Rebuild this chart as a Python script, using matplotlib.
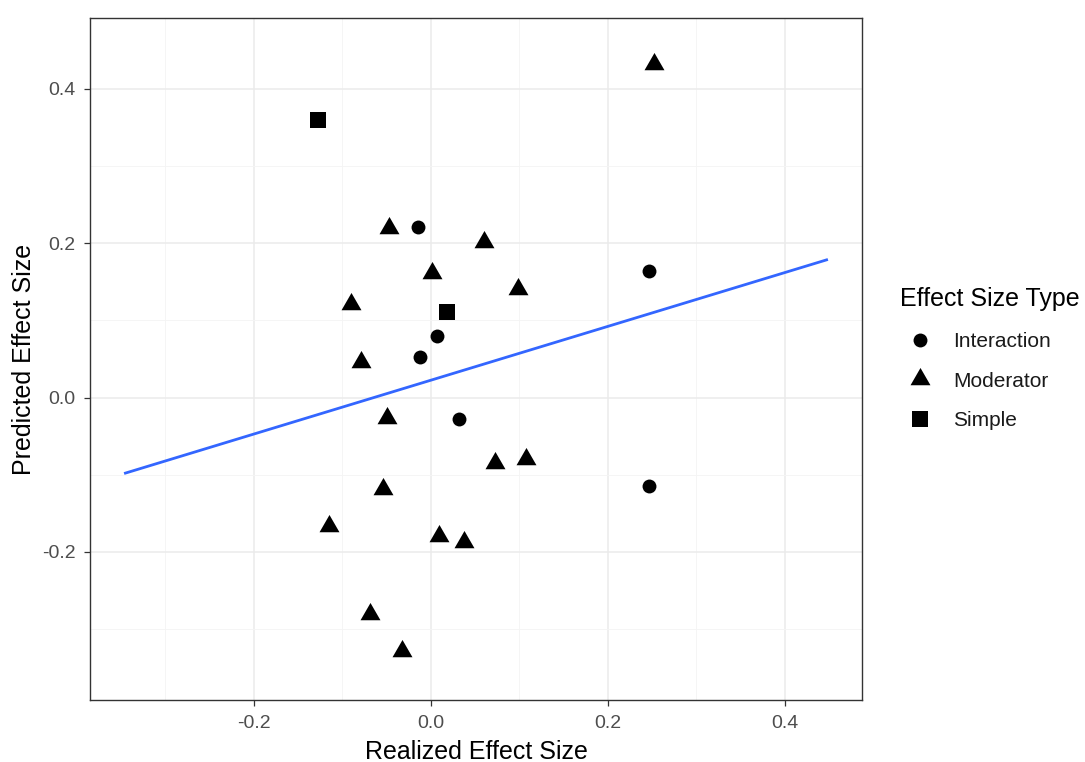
import matplotlib.pyplot as plt
import numpy as np
from matplotlib.lines import Line2D

plt.rcParams["font.family"] = ["Liberation Sans", "DejaVu Sans"]

interaction_x = [-0.015, 0.246, 0.007, -0.012, 0.032, 0.246]
interaction_y = [0.221, 0.164, 0.080, 0.052, -0.028, -0.115]

moderator_x = [0.252, -0.047, 0.060, 0.001, -0.090, 0.098, -0.079, -0.049,
               0.072, 0.108, -0.054, -0.115, 0.009, 0.038, -0.069, -0.033]
moderator_y = [0.432, 0.220, 0.202, 0.161, 0.121, 0.141, 0.046, -0.026,
               -0.085, -0.079, -0.118, -0.167, -0.180, -0.187, -0.280, -0.328]

simple_x = [-0.128, 0.018]
simple_y = [0.360, 0.111]

# linear fit shown in the chart
fit_x = [-0.345, 0.447]
fit_slope = 0.349
fit_intercept = 0.0225

TRI = [(-1, -0.577), (1, -0.577), (0, 1.155)]

fig = plt.figure(figsize=(10.85, 7.62), dpi=100)
ax = fig.add_axes([90 / 1085, 1 - 700 / 762, (862 - 90) / 1085, (700 - 18) / 762])

ax.set_xlim(-0.385, 0.487)
ax.set_ylim(-0.392, 0.492)
ax.set_xticks([-0.2, 0.0, 0.2, 0.4])
ax.set_xticklabels(["-0.2", "0.0", "0.2", "0.4"])
ax.set_yticks([-0.2, 0.0, 0.2, 0.4])
ax.set_yticklabels(["-0.2", "0.0", "0.2", "0.4"])
ax.set_xticks([-0.3, -0.1, 0.1, 0.3], minor=True)
ax.set_yticks([-0.3, -0.1, 0.1, 0.3], minor=True)
ax.grid(which="major", color="#EBEBEB", linewidth=1.1)
ax.grid(which="minor", color="#F4F4F4", linewidth=0.6)
ax.set_axisbelow(True)
ax.tick_params(which="minor", length=0)
ax.tick_params(which="major", length=4, width=0.9, color="#333333",
               labelsize=14, labelcolor="#4D4D4D")
ax.tick_params(axis="x", pad=6.5)
ax.tick_params(axis="y", pad=6.5)
for s in ax.spines.values():
    s.set_color("#333333")
    s.set_linewidth(1.0)

xs = np.array(fit_x)
ax.plot(xs, fit_intercept + fit_slope * xs, color="#3366FF", linewidth=2.0, zorder=2)

ax.scatter(interaction_x, interaction_y, marker="o", s=100, color="black", linewidths=0, zorder=3)
ax.scatter(moderator_x, moderator_y, marker=TRI, s=16.6 ** 2, color="black", linewidths=0, zorder=3)
ax.scatter(simple_x, simple_y, marker="s", s=12.2 ** 2, color="black", linewidths=0, zorder=3)

ax.set_xlabel("Realized Effect Size", fontsize=18, color="black", labelpad=6)
ax.set_ylabel("Predicted Effect Size", fontsize=18, color="black", labelpad=4)

handles = [
    Line2D([], [], linestyle="none", marker="o", markersize=10, color="black", markeredgewidth=0),
    Line2D([], [], linestyle="none", marker=TRI, markersize=16.6, color="black", markeredgewidth=0),
    Line2D([], [], linestyle="none", marker="s", markersize=12.2, color="black", markeredgewidth=0),
]
leg = fig.legend(handles, ["Interaction", "Moderator", "Simple"], title="Effect Size Type",
                 loc="upper left", bbox_to_anchor=(900 / 1085, 1 - 287 / 762),
                 frameon=False, fontsize=15, title_fontsize=18, borderpad=0,
                 borderaxespad=0, handlelength=1.92, handletextpad=0.62,
                 labelspacing=1.0)
leg._legend_box.align = "left"
for t in leg.get_texts():
    t.set_color("#1A1A1A")

fig.savefig("out.png", dpi=100)
